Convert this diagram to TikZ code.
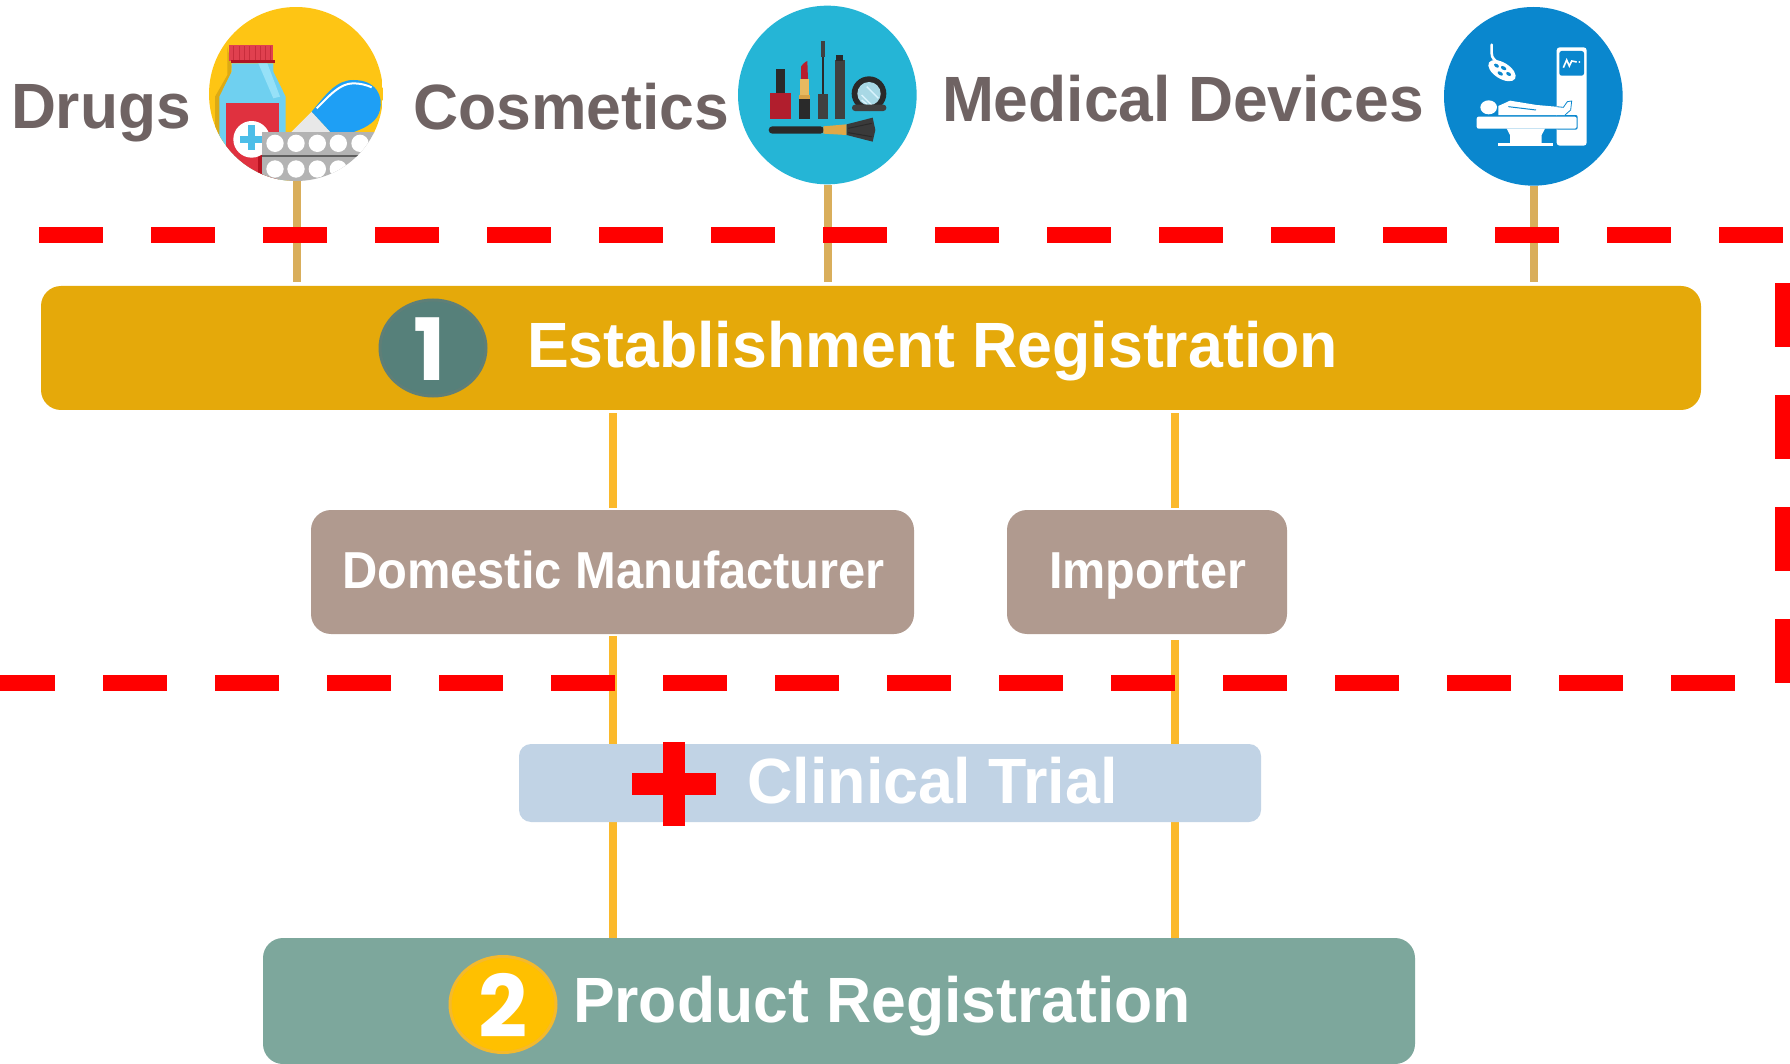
\documentclass[tikz,border=0pt]{standalone}
\usepackage{fontspec}
\usepackage{graphicx}
\setmainfont{Liberation Sans}
\newfontfamily\badgefont{Poppins}
\definecolor{barGold}{HTML}{E5A90A}
\definecolor{badgeTeal}{HTML}{56807A}
\definecolor{badgeTealEdge}{HTML}{5F7F77}
\definecolor{boxBrown}{HTML}{B09A8F}
\definecolor{boxBlue}{HTML}{C1D3E5}
\definecolor{boxGreen}{HTML}{7DA79C}
\definecolor{badgeYellow}{HTML}{FFC000}
\definecolor{badgeYellowEdge}{HTML}{F4B92D}
\definecolor{lineAmber}{HTML}{FBB92B}
\definecolor{lineTan}{HTML}{D9AE5B}
\definecolor{textGrey}{HTML}{6F6363}
\definecolor{darkInk}{HTML}{2A2A2A}
\definecolor{midInk}{HTML}{404040}
\definecolor{devBlue}{RGB}{10,135,206}
\newcommand{\fitw}[3]{\fontsize{#1}{#1}\selectfont\bfseries\resizebox{#2pt}{\height}{#3}}
\tikzset{
  bar/.style={rectangle,rounded corners=10pt,inner sep=0pt,draw=none},
  label/.style={anchor=base west,inner sep=0pt,outer sep=0pt},
  whitelabel/.style={label,text=white},
  greylabel/.style={label,text=textGrey},
  amber/.style={draw=lineAmber,line width=4pt},
  tan/.style={draw=lineTan,line width=4pt},
  reddash/.style={draw=red,line width=8pt,dash pattern=on 32pt off 24pt},
  badge/.style={ellipse,minimum width=53pt,minimum height=48pt,inner sep=0pt,line width=1.5pt},
  disc/.style={circle,inner sep=0pt},
  zoomed/.style={x=0.166667pt,y=-0.166667pt},
}
\usetikzlibrary{shapes.geometric}
\begin{document}
\begin{tikzpicture}[x=0.5pt,y=-0.5pt]
\useasboundingbox (0,0) rectangle (1790,1064);
\fill[white] (0,0) rectangle (1790,1064);

% discs
\node[disc,fill=none,minimum size=87pt] (idrugs) at (297,94) {};
\node[disc,fill=none,minimum size=89.5pt] (icosm) at (828,95) {};
\node[disc,fill=none,minimum size=89.5pt] (idev) at (1534,96.5) {};

% boxes
\node[bar,fill=barGold,minimum width=830pt,minimum height=62pt] (estab) at (871,348) {};
\node[bar,fill=boxBrown,minimum width=301.5pt,minimum height=62pt] (domestic) at (612.5,572) {};
\node[bar,fill=boxBrown,minimum width=140pt,minimum height=62pt] (importer) at (1147,572) {};
\node[bar,fill=boxGreen,minimum width=576pt,minimum height=63pt] (product) at (839,1001) {};

\coordinate (lx) at (613,0);
\coordinate (rx) at (1175,0);

% connectors
\draw[tan,shorten >=2pt] (idrugs.south) -- (idrugs.south |- estab.north);
\draw[tan,shorten >=2pt] (icosm.south) -- (icosm.south |- estab.north);
\draw[tan,shorten >=2pt] (idev.south) -- (idev.south |- estab.north);
\draw[amber,shorten <=1.5pt,shorten >=1pt] (lx |- estab.south) -- (lx |- domestic.north);
\draw[amber,shorten <=1.5pt,shorten >=1pt] (rx |- estab.south) -- (rx |- importer.north);
\draw[amber,shorten <=1pt] (lx |- domestic.south) -- (lx |- product.north);
\draw[amber,shorten <=3pt] (rx |- importer.south) -- (rx |- product.north);

\node[bar,rounded corners=6pt,fill=boxBlue,minimum width=371pt,minimum height=39pt] (clinical) at (890,783) {};

% red dashes
\draw[reddash] (39,235) -- (1790,235);
\draw[reddash] (-9,683) -- (1735,683);
\draw[reddash] (1783,283) -- (1783,683);

% plus
\fill[red] (663,742) rectangle (685,826);
\fill[red] (632,773) rectangle (716,795);

% drugs icon
\begin{scope}[shift={(190,0)},zoomed]
\begin{scope}
\clip (318,282) circle[radius=261];
\fill[color={rgb,255:red,254;green,197;blue,20}] (57,21) rectangle (579,400);
\fill[color={rgb,255:red,254;green,197;blue,20}] (57,400) rectangle (300,560);
\fill[color={rgb,255:red,220;green,170;blue,20}] (112,140) -- (112,225) -- (75,290) -- (75,450) -- (95,450) -- (125,200) -- cycle;
\fill[color={rgb,255:red,111;green,208;blue,240}] (125,190) -- (125,215) -- (88,290) -- (88,560) -- (287,560) -- (287,290) -- (250,215) -- (250,190) -- cycle;
\fill[color={rgb,255:red,150;green,225;blue,248}] (205,190) -- (232,190) -- (270,290) -- (250,295) -- cycle;
\fill[color={rgb,255:red,224;green,64;blue,79}] (118,135) rectangle (248,182);
\foreach \sx in {130,146,162,178,194,210,226,240} {\fill[color={rgb,255:red,200;green,45;blue,60}] (\sx,138) rectangle ++(3,42);}
\fill[color={rgb,255:red,175;green,20;blue,35}] (122,180) rectangle (254,189);
\fill[color={rgb,255:red,224;green,49;blue,63}] (108,308) rectangle (268,560);
\fill[color={rgb,255:red,184;green,18;blue,32}] (205,465) rectangle (218,560);
\fill[white] (185,418) circle[radius=55];
\fill[color={rgb,255:red,77;green,190;blue,232}] (150,408) rectangle (218,428);
\fill[color={rgb,255:red,77;green,190;blue,232}] (174,375) rectangle (194,450);
\fill[color={rgb,255:red,232;green,232;blue,232}] (365,335) -- (425,400) -- (300,400) -- cycle;
\fill[color={rgb,255:red,30;green,159;blue,245}] (365,335) .. controls (410,280) and (440,240) .. (490,240) .. controls (560,240) and (580,290) .. (570,330) .. controls (562,360) and (540,380) .. (480,400) -- (425,400) -- cycle;
\draw[white,line width=1pt] (380,325) .. controls (420,285) and (450,250) .. (490,250) .. controls (510,250) and (530,255) .. (545,262);
\fill[color={rgb,255:red,179;green,179;blue,179}] (217,395) rectangle (579,560);
\fill[darkInk!75!white] (217,465) rectangle (579,470);
\foreach \cx in {255,318,382,445,510} {\fill[white] (\cx,430) circle[radius=26];}
\foreach \cx in {255,318,382,445,510} {\fill[white] (\cx,507) circle[radius=26];}
\end{scope}
\end{scope}

% cosmetics icon
\begin{scope}[shift={(720,0)},zoomed]
\fill[color={rgb,255:red,37;green,181;blue,214}] (322,285) circle[radius=268];
\fill[darkInk] (167,207) rectangle (194,280);
\fill[color={rgb,255:red,177;green,30;blue,45}] (150,278) rectangle (212,356);
\fill[color={rgb,255:red,184;green,30;blue,46}] (243,240) -- (243,200) .. controls (246,195) and (255,185) .. (262,183) -- (264,240) -- cycle;
\fill[color={rgb,255:red,232;green,185;blue,96}] (240,238) rectangle (268,285);
\fill[color={rgb,255:red,214;green,160;blue,70}] (236,285) rectangle (271,298);
\fill[darkInk] (236,297) rectangle (271,356);
\fill[darkInk] (305,125) rectangle (311,285);
\fill[midInk] (302,122) rectangle (315,170);
\fill[midInk] (294,281) rectangle (325,356);
\fill[midInk] (344,180) rectangle (375,356);
\fill[darkInk] (349,165) rectangle (370,182);
\fill[darkInk] (447,281) circle[radius=52];
\fill[color={rgb,255:red,168;green,216;blue,229}] (447,281) circle[radius=35];
\draw[white!85!cyan,line width=0.7pt] (425,285) -- (455,315);
\draw[white!85!cyan,line width=0.7pt] (425,300) -- (440,312);
\draw[white!85!cyan,line width=0.7pt] (440,260) -- (475,295);
\fill[midInk,rounded corners=1.5pt] (396,314) rectangle (499,333);
\fill[darkInk,rounded corners=1.8pt] (146,379) rectangle (312,401);
\fill[color={rgb,255:red,224;green,168;blue,72}] (310,379) -- (380,373) -- (380,405) -- (310,401) -- cycle;
\fill[color={rgb,255:red,58;green,58;blue,58}] (380,373) -- (458,353) -- (466,390) -- (458,425) -- (380,405) -- cycle;
\draw[darkInk,line width=0.5pt] (385,385) -- (455,370);
\draw[darkInk,line width=0.5pt] (385,398) -- (455,410);
\end{scope}

% devices icon
\begin{scope}[shift={(1430,0)},zoomed]
\fill[devBlue] (310,289) circle[radius=268];
\draw[white,line width=1.3pt,line cap=round] (185,134) -- (185,160) .. controls (185,175) and (195,182) .. (210,192);
\fill[white,rotate around={-32:(216,212)}] (216,212) ellipse[x radius=46,y radius=24];
\fill[devBlue,rotate around={-32:(216,212)}] (194,208) ellipse[x radius=8,y radius=5];
\fill[devBlue,rotate around={-32:(216,212)}] (216,203) ellipse[x radius=9,y radius=5];
\fill[devBlue,rotate around={-32:(216,212)}] (238,210) ellipse[x radius=8,y radius=5];
\fill[devBlue,rotate around={-32:(216,212)}] (216,222) ellipse[x radius=9,y radius=5];
\fill[white,rounded corners=1.5pt] (380,142) rectangle (470,437);
\fill[devBlue,rounded corners=1.2pt] (388,153) rectangle (462,227);
\draw[white,line width=0.8pt] (400,203) -- (410,180) -- (418,198) -- (425,183) -- (440,186);
\fill[white] (448,186) circle[radius=3];
\fill[white] (176,322) ellipse[x radius=25,y radius=21];
\fill[devBlue,rounded corners=1pt] (377,345) rectangle (443,389);
\fill[white] (205,318) -- (240,302) -- (320,315) -- (400,322) -- (412,305) -- (425,303) -- (422,330) -- (405,345) -- (205,345) -- cycle;
\draw[devBlue,line width=0.5pt] (235,320) -- (318,330);
\draw[devBlue,line width=0.4pt] (380,320) -- (400,322) -- (412,305) -- (425,303) -- (422,330) -- (405,345);
\fill[white,rounded corners=1pt] (140,350) rectangle (440,386);
\fill[white] (230,386) -- (345,386) -- (335,405) -- (335,430) -- (240,430) -- (240,405) -- cycle;
\fill[white] (205,430) rectangle (370,437);
\end{scope}

% badges
\node[badge,fill=badgeTeal,draw=badgeTealEdge] (b1) at (433,348) {};
\node[badge,fill=badgeYellow,draw=badgeYellowEdge] (b2) at (503,1004.5) {};
\node[text=white,inner sep=0pt,anchor=base] (n1) at (430,381) {\badgefont\bfseries\fontsize{43}{43}\selectfont 1};
\node[text=white,inner sep=0pt,anchor=base] (n2) at (503,1037) {\badgefont\bfseries\fontsize{43}{43}\selectfont 2};

% text
\node[greylabel] (tdrugs) at (11,129) {\fitw{32}{90}{Drugs}};
\node[greylabel] (tcosm) at (413,129.5) {\fitw{32}{158}{Cosmetics}};
\node[greylabel] (tdev) at (942,122) {\fitw{32}{241}{Medical Devices}};
\node[whitelabel] (testab) at (527,368) {\fitw{32}{405.5}{Establishment Registration}};
\node[whitelabel] (tdom) at (342,588) {\fitw{26}{271.5}{Domestic Manufacturer}};
\node[whitelabel] (timp) at (1049,588) {\fitw{26}{98.5}{Importer}};
\node[whitelabel] (tclin) at (747.5,803) {\fitw{32}{185}{Clinical Trial}};
\node[whitelabel] (tprod) at (573,1022) {\fitw{32}{309}{Product Registration}};
\end{tikzpicture}
\end{document}
